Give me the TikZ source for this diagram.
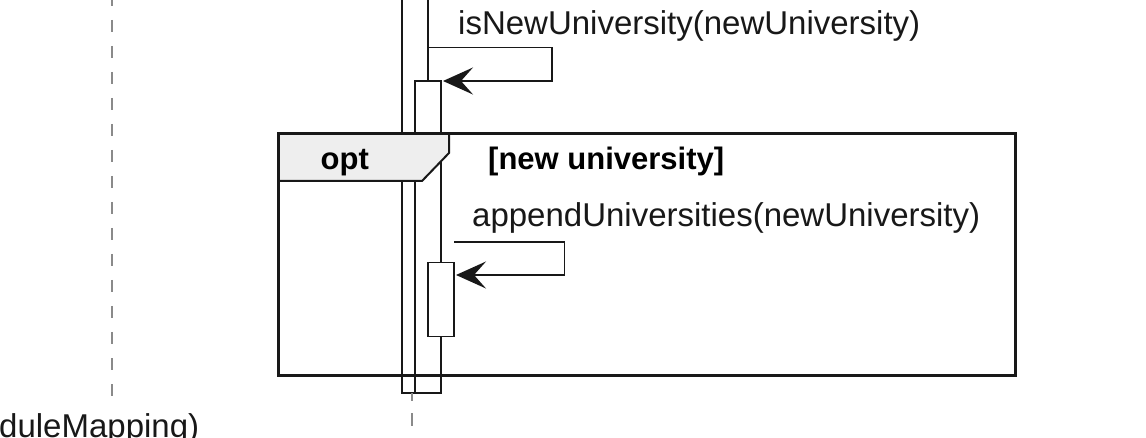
\documentclass[tikz,border=0pt]{standalone}
\usepackage{fontspec}
\setmainfont{Liberation Sans}
\usetikzlibrary{arrows.meta}
\definecolor{ink}{HTML}{181818}
\definecolor{tabgray}{HTML}{EEEEEE}
\definecolor{lifegray}{HTML}{8A8A8A}
\begin{document}
\begin{tikzpicture}[x=1pt,y=-1pt,
  actbox/.style={rectangle, draw=ink, fill=white, line width=1.5pt, minimum width=26pt, inner sep=0pt, outer sep=0pt, anchor=north west},
  msg/.style={font=\fontsize{33}{40}\selectfont, text=ink, inner sep=0pt, anchor=base west},
  lbl/.style={font=\bfseries\fontsize{31}{37}\selectfont, text=black, inner sep=0pt, anchor=base west},
  selfmsg/.style={draw=ink, line width=1.6pt, -{Stealth[length=30pt,width=27pt,inset=12pt]}},
  life/.style={draw=lifegray, line width=1.6pt},
  framebox/.style={rectangle, draw=ink, line width=3pt, inner sep=0pt, outer sep=0pt, anchor=north west},
  tabshape/.style={draw=ink, fill=tabgray, line width=2pt, line join=miter}]
\useasboundingbox (0,0) rectangle (1146,438);
% lifelines
\coordinate (lifeTopL) at (112,0);
\coordinate (lifeBotL) at (112,410);
\draw[life, dash pattern=on 12pt off 14pt, dash phase=6pt] (lifeTopL) -- (lifeBotL);
% activation boxes
\node[actbox, minimum height=403pt] (a1) at (402,-10) {};
\node[actbox, minimum height=312pt] (a2) at (415,81) {};
\node[actbox, minimum height=74.4pt] (a3) at (428,262.3) {};
\coordinate (lifeB) at (412,393);
\coordinate (lifeE) at (412,440);
\draw[life, dash pattern=on 13pt off 12pt, dash phase=5pt] (lifeB) -- (lifeE);
% self message 1
\draw[selfmsg] (a1.north east |- 0,47.7) -- (551.7,47.7) -- (551.7,81) -- ([xshift=2pt]a2.north east);
\node[msg] (m1) at (458,35) {isNewUniversity(newUniversity)};
% opt frame
\node[framebox, minimum width=737pt, minimum height=241pt] (opt) at (278,134) {};
\draw[tabshape] (opt.north west) -- (449,134) -- (449,153) -- (422,181) -- (278,181) -- cycle;
\draw[ink, line width=3pt] (opt.north west) rectangle (opt.south east);
\node[lbl] (optlbl) at (320.5,170) {opt};
\node[lbl] (cond) at (488,170) {[new university]};
% self message 2
\draw[selfmsg] (a3.north east |- 0,242.3) -- (564.3,242.3) -- (564.3,275) -- ([xshift=2pt]a3.north east |- 0,275);
\node[msg] (m2) at (472,226.7) {appendUniversities(newUniversity)};
% cut-off label
\node[msg] (m3) at (-1,437) {duleMapping)};
\end{tikzpicture}
\end{document}
